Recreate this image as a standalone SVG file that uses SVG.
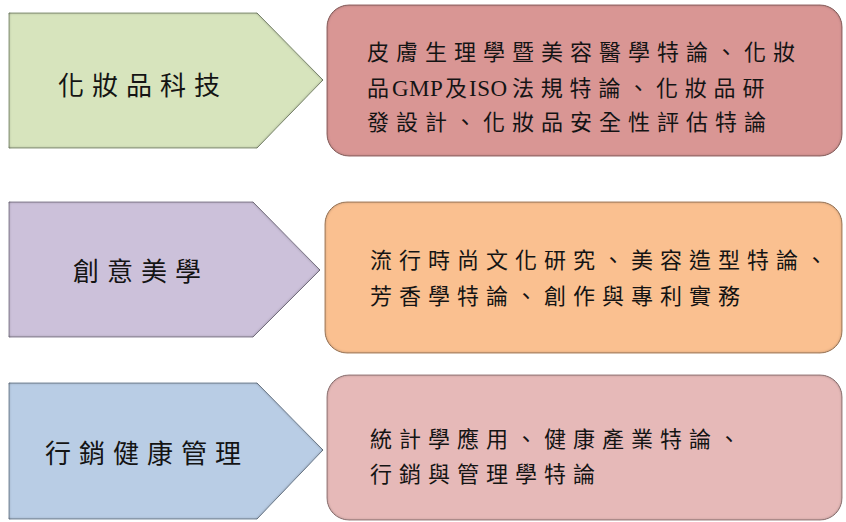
<svg xmlns="http://www.w3.org/2000/svg" width="846" height="522" viewBox="0 0 846 522">
<style>
.shape{stroke-width:1;filter:url(#inner)}
.lbl{font-family:"Noto Sans CJK TC","Noto Sans CJK SC",sans-serif;font-size:26px;letter-spacing:8px;fill:#141414}
.body{font-family:"Noto Sans CJK TC","Noto Sans CJK SC",sans-serif;font-size:22px;letter-spacing:7px;fill:#141414}
.lat{font-family:"Liberation Serif","Noto Sans CJK TC",serif;font-size:23px;letter-spacing:0.5px}
.tight{letter-spacing:0}
</style>
<defs>
<filter id="inner" x="-5%" y="-5%" width="110%" height="110%">
<feGaussianBlur in="SourceAlpha" stdDeviation="1.8" result="b"/>
<feComposite in="SourceAlpha" in2="b" operator="arithmetic" k2="1" k3="-1" result="edge"/>
<feFlood flood-color="#333333" flood-opacity="1"/>
<feComposite in2="edge" operator="in" result="shadow"/>
<feMerge><feMergeNode in="SourceGraphic"/><feMergeNode in="shadow"/></feMerge>
</filter>
</defs>
<rect width="846" height="522" fill="#ffffff"/>
<g id="connectors"/>
<g id="cat1">
<polygon class="shape" points="9,13 257,13 323,80 257,148 9,148" fill="#d7e4bd" stroke="#8f9c80"/>
<text class="lbl" x="58" y="95">化妝品科技</text>
</g>
<g id="desc1">
<rect class="shape" x="327" y="5" width="515" height="151" rx="22" fill="#d99694" stroke="#996a68"/>
<text class="body" x="367" y="60">皮膚生理學暨美容醫學特論、化妝</text>
<text class="body" y="96"><tspan class="tight" x="367">品</tspan><tspan class="lat" x="392">GMP</tspan><tspan class="tight" x="445">及</tspan><tspan class="lat" x="469">ISO</tspan><tspan x="512" letter-spacing="6.8">法規特論、化妝品研</tspan></text>
<text class="body" x="367" y="130" letter-spacing="6.8">發設計、化妝品安全性評估特論</text>
</g>
<g id="cat2">
<polygon class="shape" points="9,202 253,202 320,270 253,337 9,337" fill="#ccc1da" stroke="#8f889b"/>
<text class="lbl" x="73" y="281">創意美學</text>
</g>
<g id="desc2">
<rect class="shape" x="325" y="202" width="517" height="151" rx="22" fill="#fac090" stroke="#ad8563"/>
<text class="body" x="370" y="268">流行時尚文化研究、美容造型特論、</text>
<text class="body" x="370" y="304">芳香學特論、創作與專利實務</text>
</g>
<g id="cat3">
<polygon class="shape" points="9,383 257,383 323,450 257,519 9,519" fill="#b9cde5" stroke="#7f8ea0"/>
<text class="lbl" x="45" y="463">行銷健康管理</text>
</g>
<g id="desc3">
<rect class="shape" x="327" y="375" width="515" height="145" rx="22" fill="#e6b9b8" stroke="#a08282"/>
<text class="body" x="370" y="447">統計學應用、健康產業特論、</text>
<text class="body" x="370" y="482">行銷與管理學特論</text>
</g>
</svg>
